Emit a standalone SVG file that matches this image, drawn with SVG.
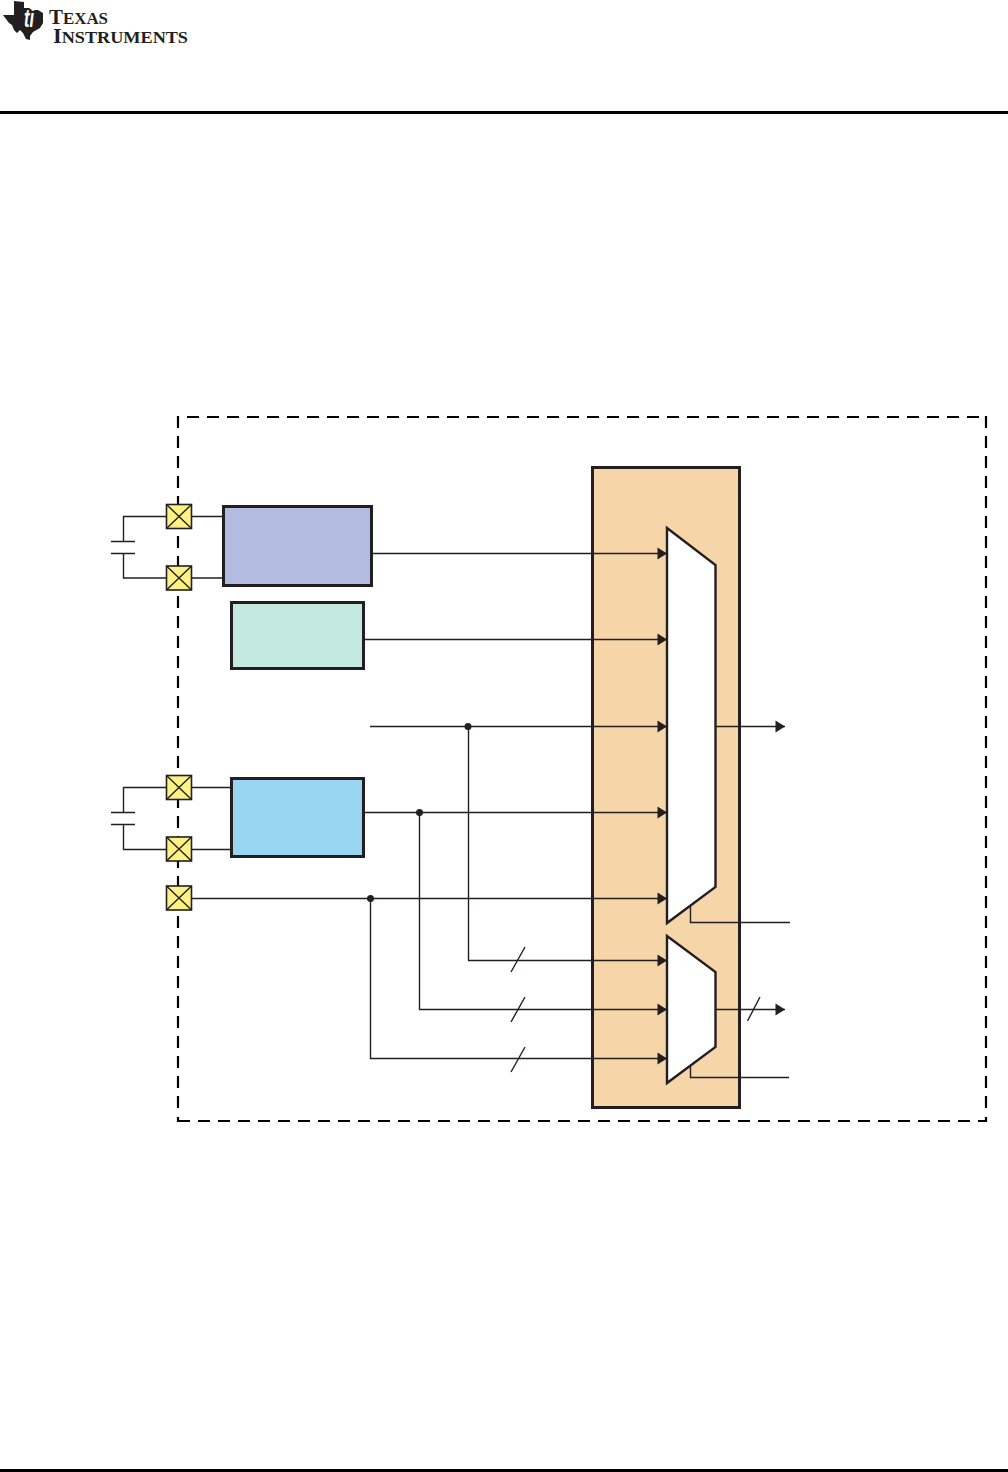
<svg xmlns="http://www.w3.org/2000/svg" width="1008" height="1472" viewBox="0 0 1008 1472">
<style>
.w{fill:none;stroke:#231f20;stroke-width:1.4}
.box{stroke:#231f20;stroke-width:3}
.pin{fill:#fdf282;stroke:#231f20;stroke-width:1.6}
.mux{fill:#fff;stroke:#231f20;stroke-width:2.4;stroke-linejoin:miter}
.dash{fill:none;stroke:#000;stroke-width:2.2;stroke-dasharray:12 8}
.solid{fill:none;stroke:#000;stroke-width:2.2}
.dot{fill:#231f20}
.lg{font-family:"Liberation Serif",serif;font-weight:bold;fill:#231f20}
</style>
<defs>
<marker id="arr" markerUnits="userSpaceOnUse" markerWidth="11" markerHeight="13" refX="10" refY="6.5" orient="auto"><path d="M0.5,0.5 L10,6.5 L0.5,12.500 Z" fill="#231f20"/></marker>
<g id="x"><rect class="pin" x="-12.500" y="-12" width="25" height="24"/><path class="w" d="M-12,-11.500 L12,11.500 M12,-11.500 L-12,11.500"/></g>
</defs>
<rect width="1008" height="1472" fill="#fff"/>
<g id="logo">
<path fill="#231f20" d="M3,15 L14,15 L14,1 L24,2 L24,8 L29,8 L32,10 L38,10 L43,13 L43,23 L40,28 L33,32 L30,36 L30,40 L26,39 L23,33 L20,30 L17,33 L14,30 L12,25 L9,23 Z"/>
<text x="24" y="27" style="font-family:'Liberation Sans',sans-serif;font-style:italic;font-weight:bold;font-size:26px" fill="#fff" textLength="10" lengthAdjust="spacingAndGlyphs">ti</text>
<text class="lg" x="49" y="24" font-size="21" textLength="59" lengthAdjust="spacingAndGlyphs">T<tspan font-size="17">EXAS</tspan></text>
<text class="lg" x="53" y="43" font-size="21" textLength="135" lengthAdjust="spacingAndGlyphs">I<tspan font-size="17">NSTRUMENTS</tspan></text>
</g>
<rect id="header-rule" x="0" y="111" width="1008" height="3" fill="#000"/>
<rect id="footer-rule" x="0" y="1469" width="1008" height="3" fill="#000"/>
<g id="boundary">
<path class="dash" d="M187,417 H980 M178,416 V1109 M986,416 V1109 M198,1121 H970"/>
<path class="solid" d="M178,1117 V1121 H190 M978,1121 H986 V1117"/>
</g>
<g id="clock-domain"><rect class="box" x="592.500" y="467.500" width="147" height="640" fill="#f6d5a9"/></g>
<g id="connectors">
<path class="w" d="M166,516.500 H123.500 V541.500 M111,541.500 H135 M111,553.500 H135 M123.500,553.500 V578 H166"/>
<path class="w" d="M192,516.500 H222 M192,578 H222"/>
<path class="w" d="M166,787.500 H123.500 V812.500 M111,812.500 H135 M111,824.500 H135 M123.500,824.500 V849.500 H166"/>
<path class="w" d="M192,787.500 H230 M192,849.500 H230"/>
<path class="w" marker-end="url(#arr)" d="M372,553.500 H667"/>
<path class="w" marker-end="url(#arr)" d="M364,639.500 H667"/>
<path class="w" marker-end="url(#arr)" d="M370,726.500 H667"/>
<path class="w" marker-end="url(#arr)" d="M364,812.500 H667"/>
<path class="w" marker-end="url(#arr)" d="M192,898.500 H667"/>
<path class="w" marker-end="url(#arr)" d="M468.500,726.500 V960.500 H667"/>
<path class="w" marker-end="url(#arr)" d="M419.500,812.500 V1009.500 H667"/>
<path class="w" marker-end="url(#arr)" d="M370.500,898.500 V1058.500 H667"/>
<path class="w" marker-end="url(#arr)" d="M715,726.500 H785"/>
<path class="w" marker-end="url(#arr)" d="M715,1009.500 H785"/>
<path class="w" d="M690.500,905 V922.500 H790 M690.500,1065 V1077.500 H789"/>
<path class="w" d="M511,972 L525,947 M511,1022 L525,997 M511,1072 L525,1047 M747.500,1021 L760,997"/>
<circle class="dot" cx="468" cy="726.500" r="3.500"/>
<circle class="dot" cx="419.500" cy="812.500" r="3.500"/>
<circle class="dot" cx="370.500" cy="898.500" r="3.500"/>
</g>
<g id="osc1"><rect class="box" x="223.500" y="506.500" width="148" height="79" fill="#b3bbe1"/></g>
<g id="osc2"><rect class="box" x="231.500" y="602.500" width="132" height="66" fill="#c4e9de"/></g>
<g id="osc3"><rect class="box" x="231.500" y="778.500" width="132" height="78" fill="#98d5f0"/></g>
<g id="pin1"><use href="#x" x="179" y="516.500"/></g>
<g id="pin2"><use href="#x" x="179" y="578"/></g>
<g id="pin3"><use href="#x" x="179" y="787.500"/></g>
<g id="pin4"><use href="#x" x="179" y="849"/></g>
<g id="pin5"><use href="#x" x="179" y="898"/></g>
<g id="mux1"><path class="mux" d="M667,528 L715.500,565 V887 L667,923 Z"/></g>
<g id="mux2"><path class="mux" d="M667,936 L715.500,972 V1047 L667,1083 Z"/></g>
</svg>
